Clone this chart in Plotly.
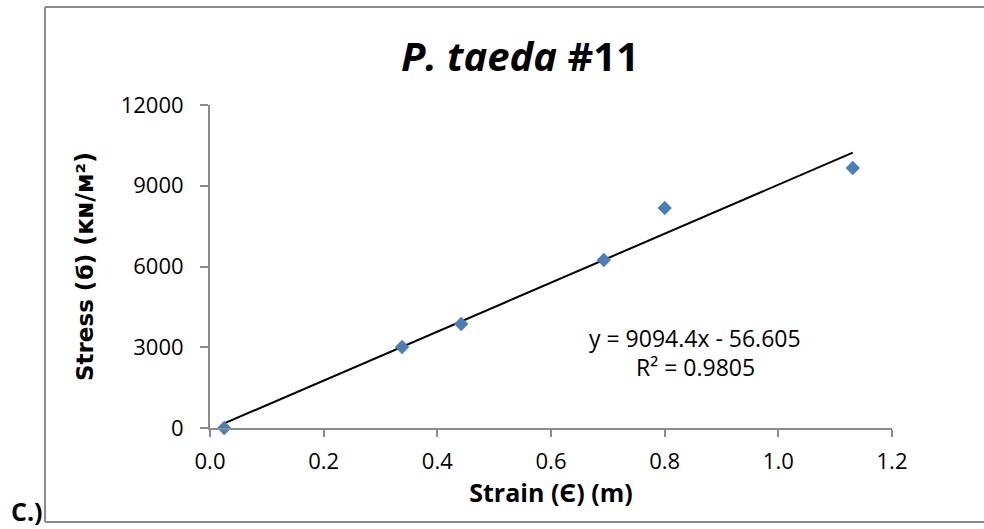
import plotly.graph_objects as go

# Data
strain = [0.025, 0.338, 0.442, 0.693, 0.800, 1.131]
stress = [0, 3009, 3863, 6241, 8173, 9659]
slope = 9094.4
intercept = -56.605
r2 = 0.9805
x_ticks = [0.0, 0.2, 0.4, 0.6, 0.8, 1.0, 1.2]
y_ticks = [0, 3000, 6000, 9000, 12000]

W, H = 984, 529
ml, mr, mt, mb = 210, 92, 105, 101
pw, ph = W - ml - mr, H - mt - mb

def px(xp):
    return (xp - ml) / pw

def py(yp):
    return (H - mb - yp) / ph

x_line = [min(strain), max(strain)]
y_line = [slope * v + intercept for v in x_line]

fig = go.Figure()
fig.add_trace(go.Scatter(x=x_line, y=y_line, mode="lines",
                         line=dict(color="black", width=2), showlegend=False, hoverinfo="skip"))
fig.add_trace(go.Scatter(x=strain, y=stress, mode="markers",
                         marker=dict(symbol="diamond", size=11, color="#4a7ebb"),
                         showlegend=False, cliponaxis=False))

font_main = "'Open Sans', Lato, sans-serif"
font_y = "'DejaVu Sans', Verdana, sans-serif"

fig.update_layout(
    width=W, height=H,
    margin=dict(l=ml, r=mr, t=mt, b=mb),
    paper_bgcolor="white", plot_bgcolor="white",
    font=dict(family=font_main, color="black", size=21),
    title=dict(text="<b><i>P. taeda</i> #11</b>", xref="paper", x=px(520), xanchor="center",
               yref="container", y=1 - 57 / H, yanchor="middle",
               font=dict(size=40, family=font_main)),
    xaxis=dict(range=[0, 1.2], tickvals=x_ticks, ticktext=[f"{v:.1f}" for v in x_ticks],
               showgrid=False, zeroline=False, showline=True, linecolor="#8c8c8c", linewidth=2,
               ticks="outside", ticklen=7, tickwidth=2, tickcolor="#8c8c8c",
               tickfont=dict(size=22), ticklabelstandoff=6,
               title=dict(text="<b>Strain (Є) (m)</b>", font=dict(size=25), standoff=8)),
    yaxis=dict(range=[0, 12000], tickvals=y_ticks, ticktext=[str(v) for v in y_ticks],
               showgrid=False, zeroline=False, showline=True, linecolor="#8c8c8c", linewidth=2,
               ticks="outside", ticklen=8, tickwidth=2, tickcolor="#8c8c8c",
               tickfont=dict(size=22), ticklabelstandoff=12,
               title=dict(text="<b>Stress (ϭ) <span style='font-size:24px'>(ᴋɴ/ᴍ²)</span></b>",
                          font=dict(size=23, family=font_y), standoff=21)),
    annotations=[
        dict(text=f"y = {slope}x - {abs(intercept)}", xref="paper", yref="paper",
             x=px(695), y=py(338), xanchor="center", yanchor="middle", showarrow=False,
             font=dict(size=23)),
        dict(text=f"R² = {r2}", xref="paper", yref="paper",
             x=px(695), y=py(367), xanchor="center", yanchor="middle", showarrow=False,
             font=dict(size=23)),
        dict(text="<b>C.)</b>", xref="paper", yref="paper",
             x=px(9), y=py(511), xanchor="left", yanchor="middle", showarrow=False,
             font=dict(size=25)),
    ],
    shapes=[
        dict(type="line", xref="paper", yref="paper", x0=px(45), x1=px(45), y0=py(7), y1=py(522),
             line=dict(color="#8c8c8c", width=2)),
        dict(type="line", xref="paper", yref="paper", x0=px(45), x1=px(990), y0=py(7), y1=py(7),
             line=dict(color="#8c8c8c", width=2)),
        dict(type="line", xref="paper", yref="paper", x0=px(45), x1=px(990), y0=py(522), y1=py(522),
             line=dict(color="#8c8c8c", width=2)),
    ],
)

fig.write_html("out.html")
